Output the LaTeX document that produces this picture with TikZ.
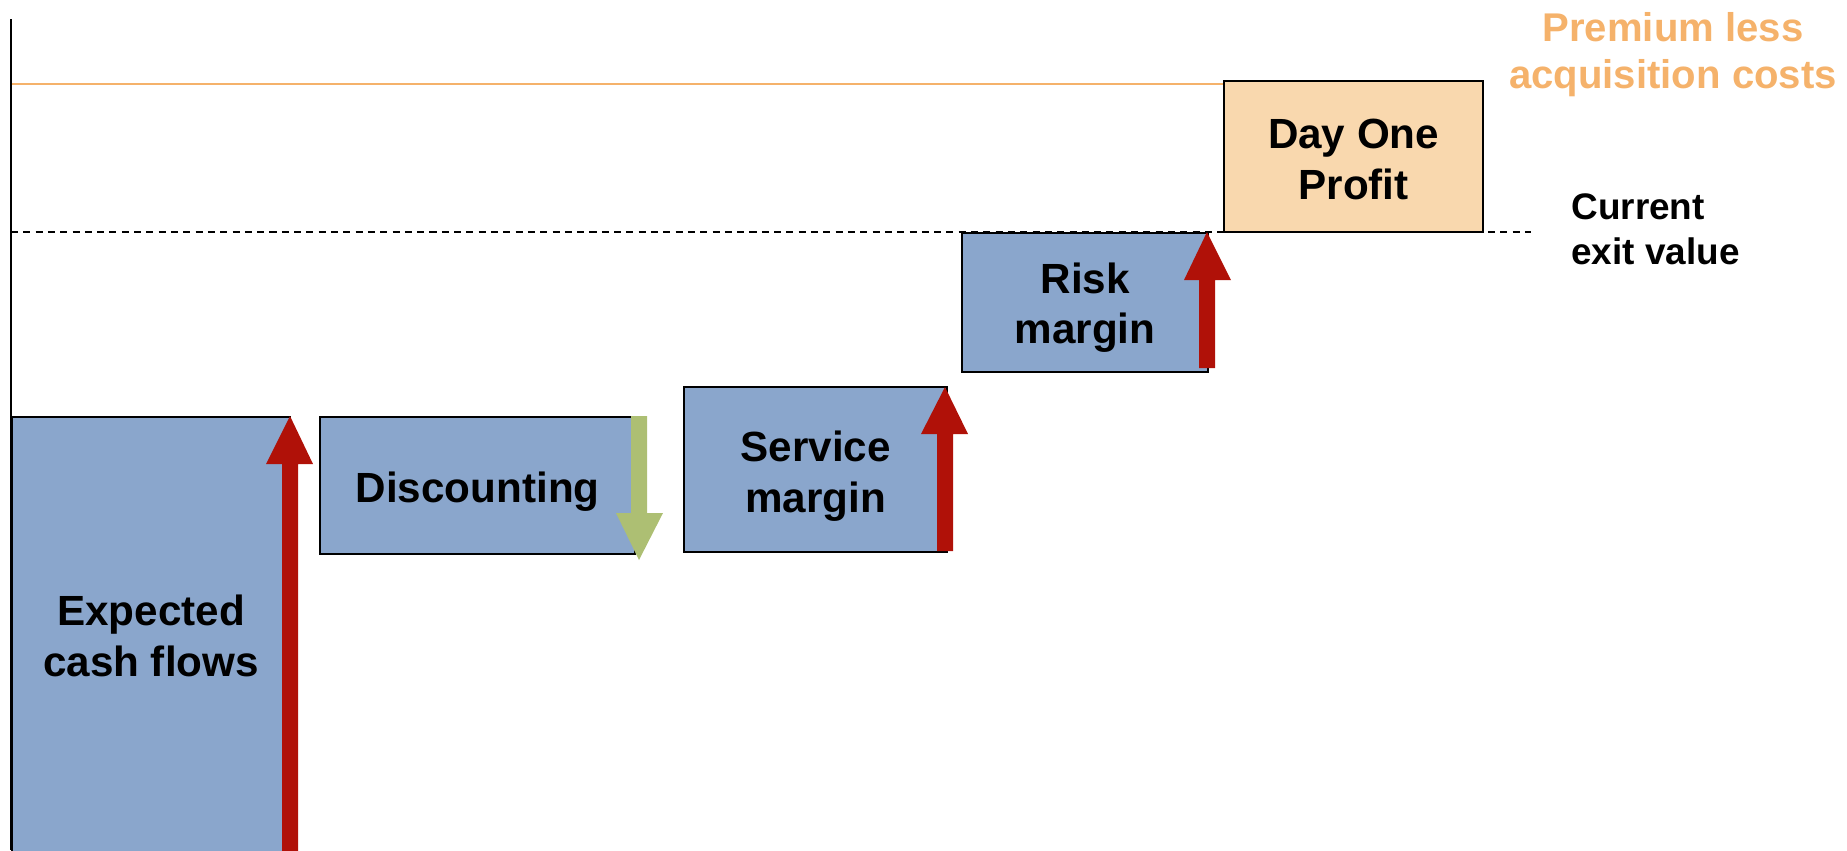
\documentclass[tikz,border=0pt]{standalone}
\usepackage{fontspec}
\setmainfont{Liberation Sans}
\begin{document}
\begin{tikzpicture}[x=0.01cm,y=-0.01cm,
  every node/.style={font=\bfseries},
  bar/.style={draw=black,line width=0.6pt,fill=barblue,inner sep=0pt,anchor=north west},
  barlabel/.style={align=center,inner sep=0pt,font=\fontsize{12}{14.4}\selectfont\bfseries},
  uparrow/.style={fill=upred,draw=none},
  downarrow/.style={fill=downgreen,draw=none}]
\definecolor{barblue}{RGB}{138,166,204}
\definecolor{upred}{RGB}{176,17,8}
\definecolor{downgreen}{RGB}{173,191,115}
\definecolor{premorange}{RGB}{245,178,107}
\definecolor{profitfill}{RGB}{249,216,174}
\useasboundingbox (0,0) rectangle (1847,850);

% reference levels
\draw[premorange,line width=0.6pt] (11,84) -- (1223,84);
\draw[black,line width=0.5pt,dash pattern=on 2pt off 1.5pt] (11,232) -- (1531,232);

% building blocks
\node[bar,minimum width=2.78cm,minimum height=4.44cm] (ecf) at (11,416) {};
\node[bar,minimum width=3.15cm,minimum height=1.37cm] (disc) at (319,416) {};
\node[bar,minimum width=2.63cm,minimum height=1.65cm] (serv) at (683,386) {};
\node[bar,minimum width=2.46cm,minimum height=1.39cm] (risk) at (961,232) {};
\node[bar,fill=profitfill,minimum width=2.59cm,minimum height=1.51cm] (dop) at (1223,80) {};

% block captions
\node[barlabel] (ecflabel) at (151,636) {Expected\\cash flows};
\node[barlabel] (disclabel) at ([yshift=-0.06cm]disc.center) {Discounting};
\node[barlabel] (servlabel) at ([yshift=-0.065cm]serv.center) {Service\\margin};
\node[barlabel] (risklabel) at ([yshift=-0.05cm]risk.center) {Risk\\margin};
\node[barlabel] (doplabel) at ([yshift=-0.03cm]dop.center) {Day One\\Profit};

% vertical axis
\draw[black,line width=0.7pt] (11,19) -- (11,850);

% movement arrows
\fill[uparrow] (282,860) -- (282,464) -- (266,464) -- (290,416) -- (313,464) -- (298,464) -- (298,860) -- cycle;
\fill[downarrow] (631,416) -- (631,513) -- (616,513) -- (639,560) -- (663,513) -- (647,513) -- (647,416) -- cycle;
\fill[uparrow] (937,551) -- (937,434) -- (921,434) -- (945,387) -- (968,434) -- (953,434) -- (953,551) -- cycle;
\fill[uparrow] (1199,368) -- (1199,280) -- (1184,280) -- (1207,232) -- (1231,280) -- (1215,280) -- (1215,368) -- cycle;

% level labels
\node[premorange,align=center,font=\fontsize{11.4}{13.4}\selectfont\bfseries] (prem) at (1673,55) {Premium less\\acquisition costs};
\node[anchor=west,align=left,font=\fontsize{10.5}{12.8}\selectfont\bfseries] (cev) at (1559,229) {Current\\exit value};
\end{tikzpicture}
\end{document}
